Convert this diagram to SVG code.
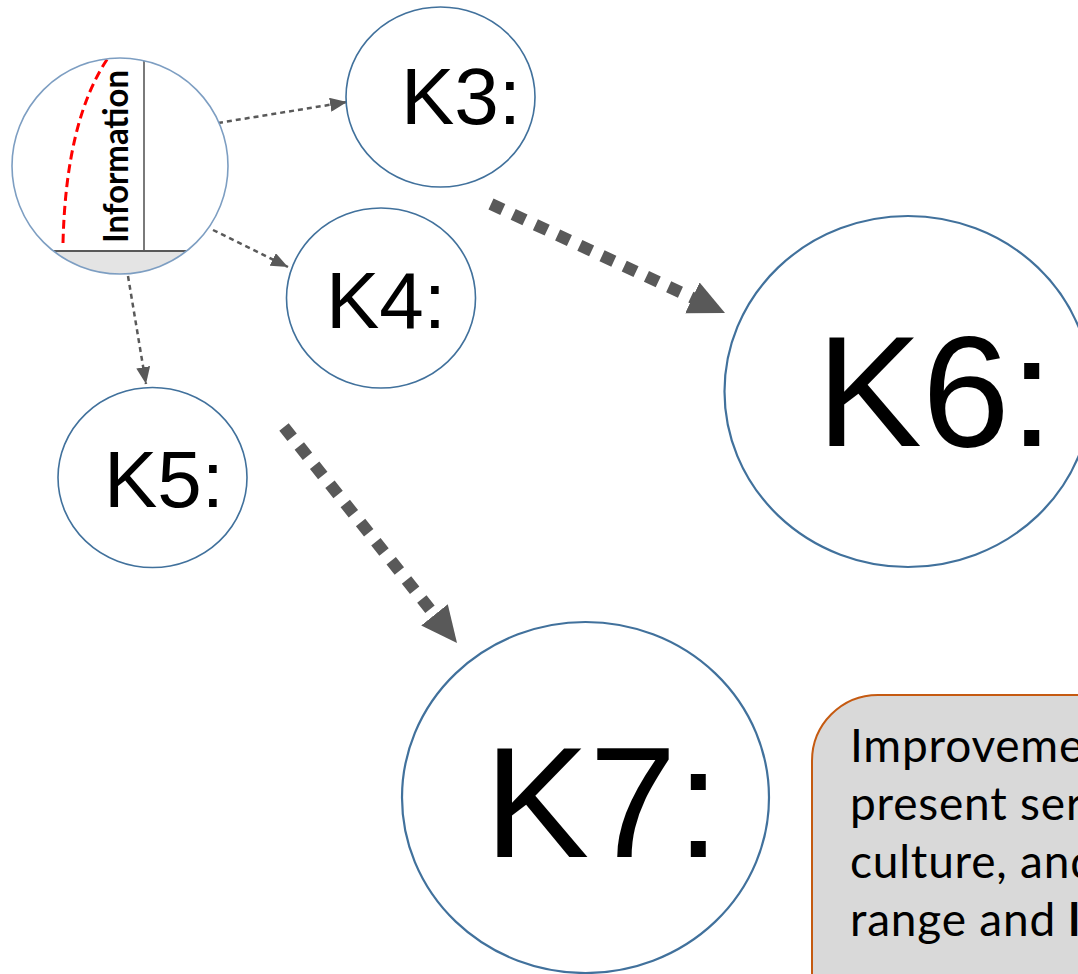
<svg xmlns="http://www.w3.org/2000/svg" width="1078" height="974" viewBox="0 0 1078 974">
  <defs>
    <style>
      .node { fill: #ffffff; stroke: #41719c; stroke-width: 1.6; }
      .node-big { fill: #ffffff; stroke: #41719c; stroke-width: 2.2; }
      .klabel { font-family: "Liberation Sans", Arial, sans-serif; fill: #000000; }
      .thin { fill: none; stroke: #595959; stroke-width: 2.5; stroke-dasharray: 5 4; }
      .thick { fill: none; stroke: #595959; stroke-width: 12; stroke-dasharray: 13 11.5; }
      .note { font-family: Lato, "Open Sans", sans-serif; font-size: 46px; letter-spacing: 0.8px; fill: #000000; }
    </style>
    <marker id="arrowSmall" markerUnits="userSpaceOnUse" markerWidth="18" markerHeight="14" refX="17" refY="7" orient="auto">
      <path d="M0,0 L17,7 L0,14 Z" fill="#595959"/>
    </marker>
    <!-- big head: the line stops 20px short of the tip so the dashes stay hidden under the triangle -->
    <marker id="arrowBig" markerUnits="userSpaceOnUse" markerWidth="37" markerHeight="35" refX="16" refY="17" orient="auto">
      <path d="M0,0 L36,17 L0,34 Z" fill="#595959"/>
    </marker>
    <clipPath id="infoClip">
      <circle cx="120" cy="166" r="108"/>
    </clipPath>
  </defs>

  <!-- connectors -->
  <g id="connectors">
    <line class="thin" x1="218" y1="123" x2="347" y2="102" marker-end="url(#arrowSmall)"/>
    <line class="thin" x1="213" y1="230" x2="288" y2="267" marker-end="url(#arrowSmall)"/>
    <line class="thin" x1="128" y1="276" x2="146" y2="384" marker-end="url(#arrowSmall)"/>
    <line class="thick" x1="491" y1="204" x2="706.9" y2="304.6" marker-end="url(#arrowBig)"/>
    <line class="thick" x1="284" y1="427" x2="444.5" y2="627.4" marker-end="url(#arrowBig)"/>
  </g>

  <!-- information chart node -->
  <g id="info">
    <circle cx="120" cy="166" r="108" fill="#ffffff"/>
    <g clip-path="url(#infoClip)">
      <rect x="0" y="251" width="240" height="40" fill="#e4e4e4"/>
      <line x1="40" y1="251" x2="200" y2="251" stroke="#595959" stroke-width="1.8"/>
      <line x1="144" y1="50" x2="144" y2="251" stroke="#595959" stroke-width="1.6"/>
      <path d="M63,243 Q66,120 108,58" fill="none" stroke="#ff0000" stroke-width="3" stroke-dasharray="9 5"/>
    </g>
    <text transform="translate(128,243) rotate(-90)" font-family="Lato, 'Open Sans', sans-serif" font-weight="bold" font-size="35" textLength="173" lengthAdjust="spacingAndGlyphs" fill="#000000">Information</text>
    <circle cx="120" cy="166" r="108" fill="none" stroke="#7d9ec2" stroke-width="1.6"/>
  </g>

  <g id="k3">
    <ellipse class="node" cx="440.5" cy="97" rx="94.5" ry="90"/>
    <text class="klabel" x="401" y="124" font-size="80">K3:</text>
  </g>

  <g id="k4">
    <ellipse class="node" cx="381" cy="298" rx="94.5" ry="90"/>
    <text class="klabel" x="326" y="328" font-size="80">K4:</text>
  </g>

  <g id="k5">
    <ellipse class="node" cx="152.5" cy="477.5" rx="94.5" ry="90"/>
    <text class="klabel" x="104" y="507" font-size="80">K5:</text>
  </g>

  <g id="k6">
    <ellipse class="node-big" cx="908" cy="391.5" rx="183.5" ry="175.5"/>
    <text class="klabel" x="816.5" y="446" font-size="158">K6:</text>
  </g>

  <g id="k7">
    <ellipse class="node-big" cx="585.5" cy="797.5" rx="183.5" ry="175.5"/>
    <text class="klabel" x="484.5" y="857" font-size="157">K7:</text>
  </g>

  <g id="note">
    <rect x="812" y="695" width="420" height="400" rx="66" ry="66" fill="#d9d9d9" stroke="#c55a11" stroke-width="2"/>
    <text class="note" x="850" y="762">Improveme</text>
    <text class="note" x="850" y="820">present ser</text>
    <text class="note" x="850" y="878">culture, and</text>
    <text class="note" x="850" y="936">range and <tspan font-weight="bold">l</tspan></text>
  </g>
</svg>
